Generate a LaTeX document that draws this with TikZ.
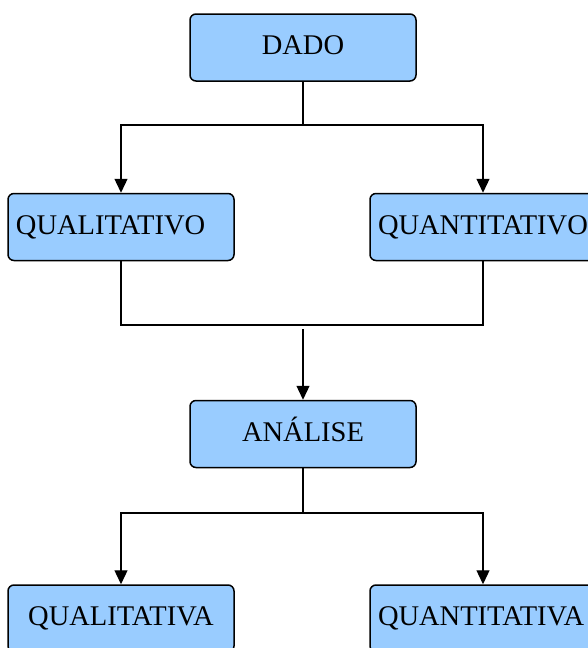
\documentclass[tikz,border=0pt]{standalone}
\usepackage{fontspec}
\setmainfont{Liberation Serif}
\usetikzlibrary{arrows.meta}
\definecolor{boxblue}{HTML}{99CCFF}
\begin{document}
\begin{tikzpicture}[x=1pt,y=-1pt,
  box/.style={draw=black, fill=boxblue, rounded corners=6pt, line width=1.5pt,
    minimum width=226pt, minimum height=67pt, inner ysep=0pt, inner xsep=8pt,
    font=\fontsize{28.5}{32}\selectfont, text height=18.9pt, text depth=4.9pt},
  lbox/.style={box, text width=210pt, align=left},
  conn/.style={line width=1.3pt},
  arr/.style={conn, -{Triangle[length=14pt,width=13pt]}}]
\useasboundingbox (0,0) rectangle (588,648);
\clip (0,0) rectangle (588,648);
\node[box] (dado) at (303,47.5) {DADO};
\node[lbox] (qlo) at (121,227) {QUALITATIVO};
\node[lbox] (qto) at (483,227) {QUANTITATIVO};
\node[box] (anl) at (303,434) {ANÁLISE};
\node[box] (qla) at (121,618.5) {QUALITATIVA};
\node[lbox] (qta) at (483,618.5) {QUANTITATIVA};
\coordinate (j1) at (303,125);
\coordinate (j2) at (303,325);
\coordinate (j3) at (303,329);
\coordinate (j4) at (303,513);
\draw[conn] (dado.south) -- (j1);
\draw[arr] (j1) -| (qlo.north);
\draw[arr] (j1) -| (qto.north);
\draw[conn] (qlo.south) |- (j2) -| (qto.south);
\draw[arr] (j3) -- (anl.north);
\draw[conn] (anl.south) -- (j4);
\draw[arr] (j4) -| (qla.north);
\draw[arr] (j4) -| (qta.north);
\end{tikzpicture}
\end{document}
